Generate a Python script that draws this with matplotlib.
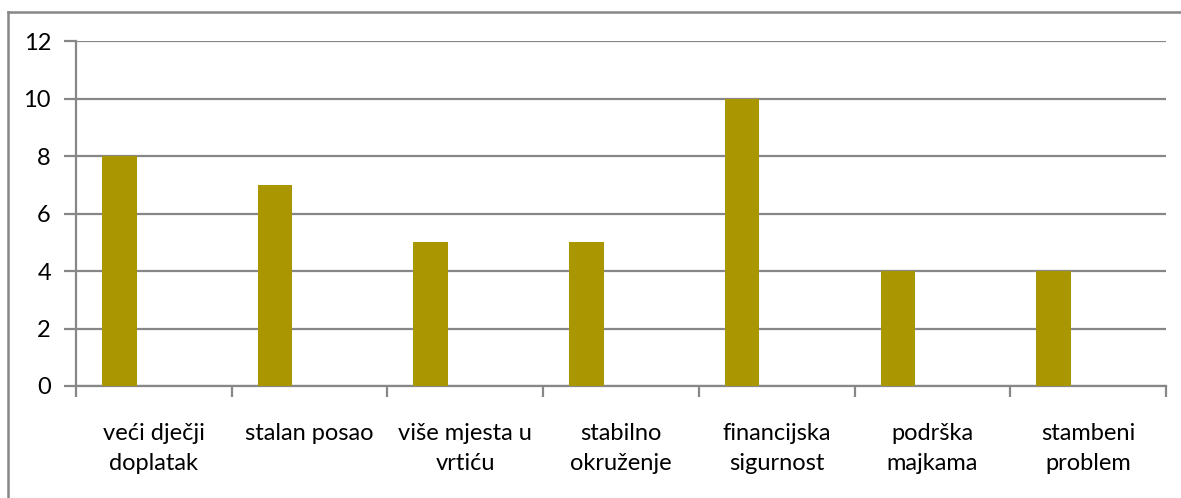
import numpy as np
import matplotlib
matplotlib.use("Agg")
import matplotlib.pyplot as plt
from matplotlib.lines import Line2D

# data
categories = ["veći dječji\ndoplatak", "stalan posao", "više mjesta u\nvrtiću",
              "stabilno\nokruženje", "financijska\nsigurnost", "podrška\nmajkama",
              "stambeni\nproblem"]
values = [8, 7, 5, 5, 10, 4, 4]
yticks = [0, 2, 4, 6, 8, 10, 12]

plt.rcParams['font.family'] = ['Lato', 'DejaVu Sans']
grey = '#878787'
bar_col = '#AA9600'

fig = plt.figure(figsize=(11.81, 4.98), dpi=100)
ax = fig.add_axes([76/1181, 1-386/498, 1090/1181, 345/498])

x = np.arange(len(categories))
# excel style: 3 series slots, gap 150% -> first slot
w = 1/4.5
ax.bar(x - 0.5 + 0.75*w, values, width=w, align='edge', color=bar_col, zorder=3)

ax.set_xlim(-0.5, len(categories) - 0.5)
ax.set_ylim(0, 12)
ax.set_yticks(yticks)
ax.yaxis.grid(True, color=grey, linewidth=1.6, zorder=0)

# category boundary ticks
ax.set_xticks(x)
ax.set_xticklabels(categories, fontsize=17, linespacing=1.5)
ax.set_xticks(np.arange(len(categories) + 1) - 0.5, minor=True)
ax.tick_params(axis='x', which='major', length=0, pad=27)
ax.tick_params(axis='x', which='minor', length=8, width=1.6, color=grey, direction='out')
ax.tick_params(axis='y', length=9, width=1.6, color=grey, pad=9, labelsize=17)

for s in ['top', 'right']:
    ax.spines[s].set_visible(False)
for s in ['left', 'bottom']:
    ax.spines[s].set_color(grey)
    ax.spines[s].set_linewidth(1.6)

# outer chart frame (cropped)
fig.add_artist(Line2D([8/1181, 8/1181], [0, 1-12/498], color=grey, linewidth=1.8,
                      transform=fig.transFigure))
fig.add_artist(Line2D([8/1181, 1], [1-12/498, 1-12/498], color=grey, linewidth=1.8,
                      transform=fig.transFigure))

fig.savefig('out.png', dpi=100)
